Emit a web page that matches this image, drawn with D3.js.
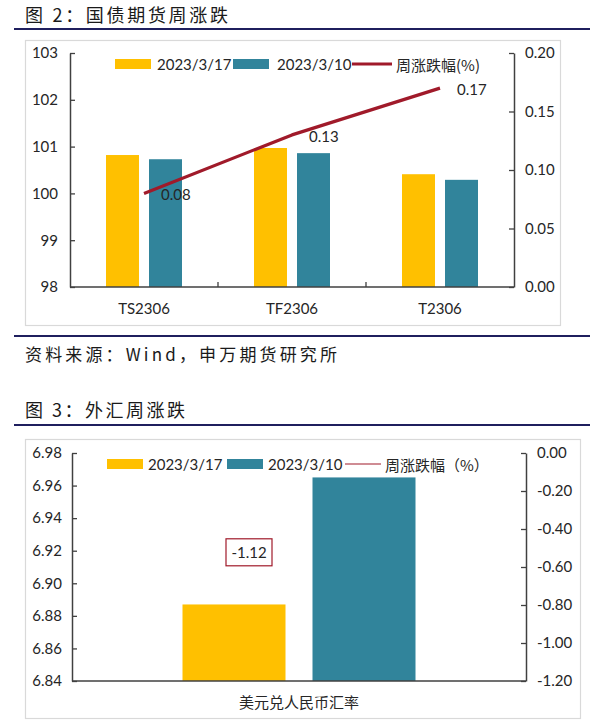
<!DOCTYPE html>
<html>
<head>
<meta charset="utf-8">
<script src="https://cdn.jsdelivr.net/npm/d3@7"></script>
<style>
  html, body { margin: 0; padding: 0; background: #fff; }
  svg { display: block; }
  .lat { font-family: Lato, "Noto Sans CJK SC", sans-serif; }
  .cjk { font-family: "Noto Sans CJK SC", sans-serif; }
</style>
</head>
<body>
<svg id="chart" width="600" height="722"></svg>
<script>
// ---------- DATA ----------
const bondCategories = ["TS2306", "TF2306", "T2306"];
const bond0317 = [100.82, 100.97, 100.41];
const bond0310 = [100.73, 100.86, 100.29];
const bondChange = [0.08, 0.13, 0.17];
const bondLeftTicks = [98, 99, 100, 101, 102, 103];
const bondRightTicks = [0, 0.05, 0.10, 0.15, 0.20];

const fxCategories = ["美元兑人民币汇率"];
const fx0317 = [6.887];
const fx0310 = [6.965];
const fxChange = [-1.12];
const fxLeftTicks = [6.84, 6.86, 6.88, 6.90, 6.92, 6.94, 6.96, 6.98];
const fxRightTicks = [-1.20, -1.00, -0.80, -0.60, -0.40, -0.20, 0.00];

const seriesNames = ["2023/3/17", "2023/3/10"];
const lineName1 = "周涨跌幅(%)";
const lineName2 = "周涨跌幅（%）";

// ---------- STYLE ----------
const YELLOW = "#FFC000";
const TEAL = "#31849B";
const RED = "#A01A2A";
const AXIS = "#404040";
const TXT = "#262626";
const RULE = "#1F1F5E";

const f2 = (v) => d3.format(".2f")(v).replace("\u2212", "-");
const fd = (v) => d3.format("d")(v).replace("\u2212", "-");

const svg = d3.select("#chart");

// page rules and titles
function rule(y) {
  svg.append("line").attr("x1", 14).attr("x2", 590).attr("y1", y).attr("y2", y)
    .attr("stroke", RULE).attr("stroke-width", 2.2);
}
function title(txt, y, w) {
  svg.append("text").attr("class", "cjk").attr("x", 25).attr("y", y)
    .attr("font-size", 18).attr("fill", "#1a1a1a")
    .attr("textLength", w).attr("lengthAdjust", "spacing")
    .text(txt);
}
title("图 2：国债期货周涨跌", 22, 203);
rule(29);
rule(336);
svg.append("text").attr("class", "cjk").attr("x", 25).attr("y", 361)
  .attr("font-size", 17).attr("fill", "#1a1a1a")
  .attr("textLength", 312).attr("lengthAdjust", "spacing")
  .text("资料来源：Wind，申万期货研究所");
title("图 3：外汇周涨跌", 417, 160);
rule(425);

// ---------- generic chart ----------
function drawChart(cfg) {
  const g = svg.append("g");
  // frame
  g.append("rect").attr("x", cfg.frame[0] + 0.5).attr("y", cfg.frame[1] + 0.5)
    .attr("width", cfg.frame[2] - cfg.frame[0]).attr("height", cfg.frame[3] - cfg.frame[1])
    .attr("fill", "#fff").attr("stroke", "#D9D9D9").attr("stroke-width", 1.2);

  const x = d3.scaleBand().domain(cfg.categories).range([cfg.left, cfg.right]);
  const x1 = d3.scaleBand().domain([0, 1])
    .range([-cfg.groupW / 2, cfg.groupW / 2]).paddingInner(cfg.innerPad);
  const yL = d3.scaleLinear().domain(cfg.leftDomain).range([cfg.bottom, cfg.top]);
  const yR = d3.scaleLinear().domain(cfg.rightDomain).range([cfg.bottom, cfg.top]);

  // bars
  const series = [cfg.s1, cfg.s2];
  const colors = [YELLOW, TEAL];
  series.forEach((vals, si) => {
    g.selectAll(null).data(cfg.categories).enter().append("rect")
      .attr("x", (d) => x(d) + x.bandwidth() / 2 + x1(si))
      .attr("width", x1.bandwidth())
      .attr("y", (d, i) => yL(vals[i]))
      .attr("height", (d, i) => cfg.bottom - yL(vals[i]))
      .attr("fill", colors[si]);
  });

  // line
  const line = d3.line()
    .x((d, i) => x(cfg.categories[i]) + x.bandwidth() / 2)
    .y((d) => yR(d));
  g.append("path").datum(cfg.change).attr("d", line)
    .attr("fill", "none").attr("stroke", RED).attr("stroke-width", 3.2)
    .attr("stroke-linejoin", "round");

  // axes
  const axL = d3.axisLeft(yL).tickValues(cfg.leftTicks).tickSizeInner(-5).tickSizeOuter(0)
    .tickPadding(cfg.padL).tickFormat(cfg.fmtL);
  const axR = d3.axisRight(yR).tickValues(cfg.rightTicks).tickSizeInner(-5).tickSizeOuter(0)
    .tickPadding(11).tickFormat(cfg.fmtR);
  const gl = g.append("g").attr("transform", `translate(${cfg.left},0)`).call(axL);
  const gr = g.append("g").attr("transform", `translate(${cfg.right},0)`).call(axR);
  [gl, gr].forEach((a) => {
    a.select(".domain").attr("stroke", AXIS).attr("stroke-width", 1.5);
    a.selectAll(".tick line").attr("stroke", AXIS).attr("stroke-width", 1.3);
    a.selectAll(".tick text").attr("class", "lat").attr("font-size", cfg.tickFont)
      .attr("fill", TXT);
  });
  // x axis
  g.append("line").attr("x1", cfg.left).attr("x2", cfg.right)
    .attr("y1", cfg.bottom).attr("y2", cfg.bottom)
    .attr("stroke", AXIS).attr("stroke-width", 1.5);
  cfg.categories.slice(1).forEach((c) => {
    g.append("line").attr("x1", x(c)).attr("x2", x(c))
      .attr("y1", cfg.bottom).attr("y2", cfg.bottom - 5)
      .attr("stroke", AXIS).attr("stroke-width", 1.3);
  });
  g.selectAll(null).data(cfg.categories).enter().append("text")
    .attr("class", "lat").attr("font-size", cfg.catFont).attr("fill", TXT)
    .attr("text-anchor", "middle").attr("dominant-baseline", "central")
    .attr("x", (d) => x(d) + x.bandwidth() / 2).attr("y", cfg.bottom + 21)
    .text((d) => d);

  // legend
  const L = cfg.legend;
  g.append("rect").attr("x", L.sw1).attr("y", L.y - 5).attr("width", L.swW).attr("height", 10).attr("fill", YELLOW);
  g.append("text").attr("class", "lat").attr("x", L.t1).attr("y", L.y).attr("dominant-baseline", "central")
    .attr("font-size", 15).attr("fill", TXT).text(seriesNames[0]);
  g.append("rect").attr("x", L.sw2).attr("y", L.y - 5).attr("width", L.swW).attr("height", 10).attr("fill", TEAL);
  g.append("text").attr("class", "lat").attr("x", L.t2).attr("y", L.y).attr("dominant-baseline", "central")
    .attr("font-size", 15).attr("fill", TXT).text(seriesNames[1]);
  g.append("line").attr("x1", L.sw3).attr("x2", L.sw3 + L.lnW).attr("y1", L.y).attr("y2", L.y)
    .attr("stroke", RED).attr("stroke-width", L.lnStroke);
  g.append("text").attr("class", "cjk").attr("x", L.t3).attr("y", L.y).attr("dominant-baseline", "central")
    .attr("font-size", 15).attr("fill", TXT).text(L.name);

  return { g, x, yL, yR };
}

// ---------- Chart 1: bond futures ----------
const c1 = drawChart({
  frame: [25, 40, 560, 325],
  categories: bondCategories, s1: bond0317, s2: bond0310, change: bondChange,
  left: 70, right: 514, top: 53, bottom: 287,
  groupW: 76, innerPad: 0.233,
  leftDomain: [98, 103], rightDomain: [0, 0.2],
  leftTicks: bondLeftTicks, rightTicks: bondRightTicks,
  fmtL: fd, fmtR: f2, padL: 12,
  tickFont: 15, catFont: 15,
  legend: { y: 64, sw1: 115, t1: 157, sw2: 233, t2: 277, sw3: 352, t3: 396, swW: 36, lnW: 40, lnStroke: 3.2, name: lineName1 }
});
c1.g.selectAll(null).data(bondChange).enter().append("text")
  .attr("class", "lat").attr("font-size", 15).attr("fill", TXT)
  .attr("dominant-baseline", "central")
  .attr("x", (d, i) => c1.x(bondCategories[i]) + c1.x.bandwidth() / 2 + 17)
  .attr("y", (d) => c1.yR(d) + 1)
  .text((d) => f2(d));

// ---------- Chart 2: FX ----------
const c2 = drawChart({
  frame: [25, 439, 580, 718],
  categories: fxCategories, s1: fx0317, s2: fx0310, change: fxChange,
  left: 72, right: 526, top: 453, bottom: 681,
  groupW: 233, innerPad: 0.2077,
  leftDomain: [6.84, 6.98], rightDomain: [-1.2, 0],
  leftTicks: fxLeftTicks, rightTicks: fxRightTicks,
  fmtL: f2, fmtR: f2, padL: 10,
  tickFont: 15, catFont: 15,
  legend: { y: 464, sw1: 107, t1: 148, sw2: 227, t2: 268, sw3: 345, t3: 385, swW: 36, lnW: 36, lnStroke: 1.2, name: lineName2 }
});
// boxed data label for the FX change
const lbl = c2.g.selectAll(null).data(fxChange).enter().append("g")
  .attr("transform", (d, i) => `translate(${c2.x(fxCategories[i]) + c2.x.bandwidth() / 2 - 50},${c2.yR(d) - 114})`);
lbl.append("rect").attr("x", -23).attr("y", -13).attr("width", 46).attr("height", 27)
  .attr("fill", "#fff").attr("stroke", RED).attr("stroke-width", 1.2);
lbl.append("text").attr("class", "lat").attr("font-size", 15).attr("fill", TXT)
  .attr("text-anchor", "middle").attr("dominant-baseline", "central")
  .text((d) => f2(d));
</script>
</body>
</html>
